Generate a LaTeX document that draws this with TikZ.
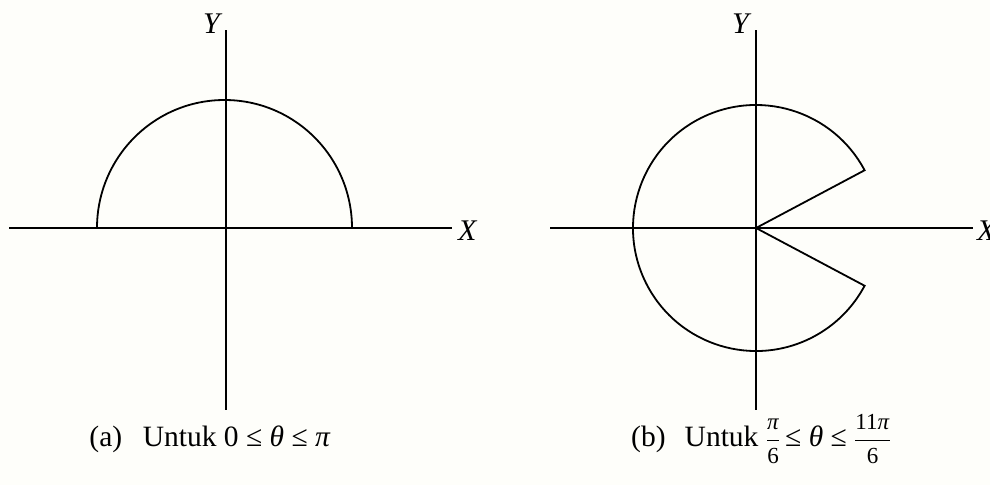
\documentclass[tikz,border=0pt]{standalone}
\usepackage{fontspec}
\setmainfont{Liberation Serif}
\definecolor{bgc}{HTML}{FEFEFA}
\tikzset{
  axis/.style={line width=1.8pt, black},
  curve/.style={line width=1.8pt, black},
  lbl/.style={font=\fontsize{30}{32}\selectfont\itshape, inner sep=0pt},
  captext/.style={font=\fontsize{29.5}{32}\selectfont, inner sep=0pt, anchor=base}
}
\newcommand{\fr}[2]{\ensuremath{{\displaystyle\frac{\mbox{\fontsize{23}{24}\selectfont #1}}{\mbox{\fontsize{23}{24}\selectfont #2}}}}}
\begin{document}
\begin{tikzpicture}[x=1pt,y=-1pt]
\fill[bgc] (0,0) rectangle (990,485);
\useasboundingbox (0,0) rectangle (990,485);
% left figure
\coordinate (o1) at (226,228);
\coordinate (y1t) at (226,30);
\coordinate (y1b) at (226,410);
\coordinate (x1l) at (9,228);
\coordinate (x1r) at (452,228);
\draw[axis] (y1t) -- (y1b);
\draw[axis] (x1l) -- (x1r);
\coordinate (a1) at (352,228);
\draw[curve] (a1) arc[start angle=0, end angle=-180, x radius=127.5, y radius=128];
\node[lbl, anchor=south east] (Y1) at (220,34) {Y};
\node[lbl, anchor=west] (X1) at (458,231) {X};
% right figure
\coordinate (o2) at (756,228);
\coordinate (y2t) at (756,30);
\coordinate (y2b) at (756,410);
\coordinate (x2l) at (550,228);
\coordinate (x2r) at (973,228);
\draw[axis] (y2t) -- (y2b);
\draw[axis] (x2l) -- (x2r);
\draw[curve, line join=miter] (o2) -- ++(-28:123) arc[start angle=-28, end angle=-332, radius=123] -- cycle;
\node[lbl, anchor=south east] (Y2) at (749,34) {Y};
\node[lbl, anchor=west] (X2) at (977,231) {X};
% captions
\node[captext] (ca) at (210,446) {(a)\hspace{0.45em} Untuk 0 ≤ \textit{θ} ≤ \textit{π}};
\node[captext] (cb) at (761,446) {(b)\hspace{0.4em} Untuk \fr{\textit{π}}{6}\,≤ \textit{θ} ≤ \fr{11\textit{π}}{6}};
\end{tikzpicture}
\end{document}
